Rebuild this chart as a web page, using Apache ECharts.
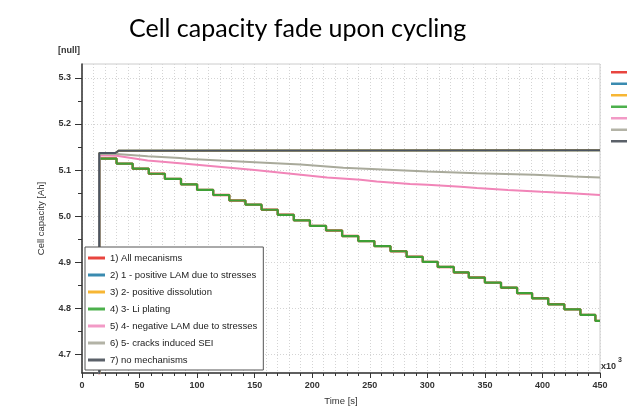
<!DOCTYPE html>
<html><head><meta charset="utf-8">
<script src="https://cdn.jsdelivr.net/npm/echarts@6/dist/echarts.min.js"></script>
<style>html,body{margin:0;padding:0;background:#fff}#c{width:628px;height:411px}</style>
</head><body><div id="c"></div>
<script>
const seriesNames = ['1) All mecanisms','2) 1 - positive LAM due to stresses','3) 2- positive dissolution','4) 3- Li plating','5) 4- negative LAM due to stresses','6) 5- cracks induced SEI','7) no mechanisms'];
const seriesColors = ['#e8453f','#3a8bb0','#f7b634','#3f9f36','#f185b8','#a9aa9b','#4c5561'];
const legendColors = ['#e8453f','#3a8bb0','#f7b634','#4cb04c','#f29ac6','#b3b3a6','#5b6169'];
// start of the curves (below the visible range, vertical rise)
const startTime = 15;
const startValue = 4.6;
// Li plating / all mechanisms: step times [1e3 s] and capacity after each step [Ah]
const stepTimes = [15,30,44,58,72,86,100,114,128,142,156,170,184,198,212,226,240,254,268,282,296,309,323,336,350,364,378,391,405,419,433,446,450];
const liPlatingValues = [5.125,5.114,5.103,5.092,5.081,5.069,5.057,5.046,5.034,5.025,5.014,5.003,4.991,4.979,4.969,4.957,4.946,4.935,4.924,4.912,4.901,4.890,4.878,4.867,4.856,4.845,4.833,4.822,4.809,4.798,4.786,4.773,4.773];
const allMechValues = liPlatingValues;
// negative LAM
const negLamTimes = [15,30,57,85,102,150,190,213,242,256,285,300,329,343,370,399,425,450];
const negLamValues = [5.132,5.131,5.121,5.115,5.111,5.100,5.090,5.084,5.079,5.075,5.070,5.068,5.064,5.061,5.057,5.053,5.050,5.046];
// cracks induced SEI
const seiTimes = [15,30,57,85,94,150,190,207,227,256,300,343,393,427,450];
const seiValues = [5.135,5.135,5.130,5.126,5.124,5.117,5.112,5.109,5.105,5.102,5.097,5.093,5.090,5.086,5.084];
// no mechanisms (positive LAM and dissolution lie underneath)
const noMechTimes = [15,29,32,450];
const noMechValues = [5.137,5.137,5.142,5.143];
const xTickLabels = [0,50,100,150,200,250,300,350,400,450];
const yTickValues = [4.7,4.8,4.9,5.0,5.1,5.2,5.3];
const yMinorValues = [4.75,4.85,4.95,5.05,5.15,5.25];

function pairs(ts, vs){ const d=[[startTime,startValue]]; ts.forEach((t,i)=>d.push([t,vs[i]])); return d; }

const F = 'Liberation Sans';
const mk = (idx, data, step, width) => ({
  name: seriesNames[idx], type:'line', data, step: step||false, symbol:'none', showSymbol:false,
  lineStyle:{color:seriesColors[idx], width: width||2}, itemStyle:{color:legendColors[idx]},
  clip:true, animation:false
});
const series = [
  mk(0, pairs(stepTimes, allMechValues), 'end', 2.4),
  mk(1, pairs(noMechTimes, noMechValues), false, 2),
  mk(2, pairs(noMechTimes, noMechValues), false, 2),
  mk(3, pairs(stepTimes, liPlatingValues), 'end', 2.2),
  mk(4, pairs(negLamTimes, negLamValues), false, 2),
  mk(5, pairs(seiTimes, seiValues), false, 2),
  mk(6, pairs(noMechTimes, noMechValues), false, 2),
];
const chart = echarts.init(document.getElementById('c'), null, {renderer:'canvas'});
const dotted = {type:[1,2], color:'#d4d4d4', width:1};
chart.setOption({
  animation:false,
  backgroundColor:'#fff',
  title:{text:'Cell capacity fade upon cycling', left:124, top:11, textStyle:{fontSize:25, fontWeight:'normal', fontFamily:'Lato', color:'#000'}},
  grid:{left:82, right:28, top:64, bottom:38, show:true, borderColor:'#cccccc', borderWidth:1, backgroundColor:'transparent'},
  xAxis:{type:'value', min:0, max:450, interval:50,
    name:'Time [s]', nameLocation:'middle', nameGap:23, nameTextStyle:{fontSize:9.5, color:'#333', fontFamily:F},
    axisLine:{show:true, onZero:false, lineStyle:{color:'#333', width:1.5}},
    axisTick:{show:true, length:5, lineStyle:{color:'#333'}},
    minorTick:{show:true, splitNumber:5, length:3, lineStyle:{color:'#333'}},
    axisLabel:{fontSize:9, fontWeight:'bold', color:'#333', margin:8, fontFamily:F, formatter:v=>String(v)},
    splitLine:{show:true, lineStyle:dotted},
    minorSplitLine:{show:true, lineStyle:dotted}
  },
  yAxis:[{type:'value', min:4.66, max:5.33, position:'left',
    name:'Cell capacity [Ah]', nameLocation:'middle', nameGap:36, nameTextStyle:{fontSize:9.5, color:'#333', fontFamily:F},
    axisLine:{show:true, onZero:false, lineStyle:{color:'#333', width:1.5}},
    axisTick:{show:true, length:7, customValues:yTickValues, lineStyle:{color:'#333'}},
    axisLabel:{customValues:yTickValues, formatter:v=>Number(v).toFixed(1), fontSize:9, fontWeight:'bold', color:'#333', margin:11, fontFamily:F},
    splitLine:{show:true, lineStyle:dotted}
  },{type:'value', min:4.66, max:5.33, position:'left', offset:0,
    name:'[null]', nameLocation:'end', nameGap:9, nameTextStyle:{fontSize:9, fontWeight:'bold', color:'#333', align:'right', fontFamily:F, padding:[0,2,0,0]},
    axisLine:{show:false},
    axisTick:{show:true, length:4, customValues:yMinorValues, lineStyle:{color:'#333'}},
    axisLabel:{show:false, customValues:yMinorValues},
    splitLine:{show:false}
  }],
  legend:[{data:seriesNames, orient:'vertical', left:85, top:247, padding:[5,6,4,3], itemGap:5, itemWidth:17, itemHeight:3, icon:'rect',
    backgroundColor:'#fff', borderColor:'#555', borderWidth:1, borderRadius:0, selectedMode:false,
    textStyle:{fontSize:9.5, color:'#222', fontFamily:F, lineHeight:12}},
   {data:seriesNames, orient:'vertical', left:611, top:71, padding:0, itemGap:9, itemWidth:16, itemHeight:2.5, icon:'rect', selectedMode:false,
    formatter:()=>'', textStyle:{fontSize:1, lineHeight:1}}],
  graphic:[
    {type:'text', left:601, top:362, style:{text:'x10', fontSize:9, fontWeight:'bold', fill:'#333', fontFamily:F}},
    {type:'text', left:618, top:357, style:{text:'3', fontSize:7, fontWeight:'bold', fill:'#333', fontFamily:F}}
  ],
  series
});
</script></body></html>
